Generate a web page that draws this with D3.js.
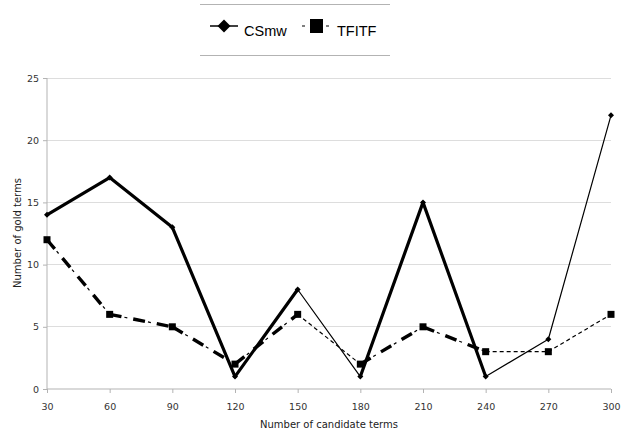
<!DOCTYPE html>
<html><head><meta charset="utf-8">
<script src="https://cdn.jsdelivr.net/npm/d3@7"></script>
<style>body{margin:0;background:#fff}svg{display:block}</style>
</head><body>
<svg id="c" width="626" height="432"></svg>
<script>
const categories = [30, 60, 90, 120, 150, 180, 210, 240, 270, 300];
const csmw = [14, 17, 13, 1, 8, 1, 15, 1, 4, 22];
const tfitf = [12, 6, 5, 2, 6, 2, 5, 3, 3, 6];
const yTicks = [0, 5, 10, 15, 20, 25];
const seriesNames = ["CSmw", "TFITF"];
// segment weight (between consecutive points)
const segWeight = ["thick","thick","thick","thick","thin","thick","thick","thin","thin"];

const svg = d3.select("#c");
const x = d3.scalePoint().domain(categories).range([47, 611]);
const y = d3.scaleLinear().domain([0, 25]).range([389, 78]);
const font = "DejaVu Sans, sans-serif";

// grid
svg.append("g").selectAll("line").data(yTicks.filter(d => d > 0)).join("line")
  .attr("x1", 47).attr("x2", 611).attr("y1", d => y(d)).attr("y2", d => y(d))
  .attr("stroke", "#dddddd").attr("stroke-width", 1).attr("shape-rendering","crispEdges");

// y axis
const ya = svg.append("g").attr("transform", "translate(47,0)")
  .call(d3.axisLeft(y).tickValues(yTicks).tickSize(4).tickPadding(4));
ya.select(".domain").attr("stroke", "#b3b3b3").attr("d", "M0," + y(0) + "V" + y(25));
ya.selectAll(".tick line").attr("stroke", "#b3b3b3");
ya.selectAll("text").attr("font-family", font).attr("font-size", 9.5).attr("fill", "#333");

// x axis
const xa = svg.append("g").attr("transform", "translate(0,389)")
  .call(d3.axisBottom(x).tickSize(4).tickPadding(10));
xa.select(".domain").attr("stroke", "#b3b3b3").attr("d", "M47,0H611");
xa.selectAll(".tick line").attr("stroke", "#b3b3b3");
xa.selectAll("text").attr("font-family", font).attr("font-size", 9.5).attr("fill", "#333");

// axis titles
svg.append("text").attr("x", 329).attr("y", 428).attr("text-anchor", "middle")
  .attr("font-family", font).attr("font-size", 10).attr("fill", "#222").text("Number of candidate terms");
svg.append("text").attr("transform", "translate(21,233) rotate(-90)").attr("text-anchor", "middle")
  .attr("font-family", font).attr("font-size", 10).attr("fill", "#222").text("Number of gold terms");

const segs = (vals) => vals.slice(1).map((v, i) => ({x1: categories[i], y1: vals[i], x2: categories[i+1], y2: v, w: segWeight[i]}));

// TFITF line: thick segments = thick long dashes + thin short dashes between; thin segments = thin dashes
const tSegs = segs(tfitf);
const seg = (g, data) => g.selectAll("line").data(data).join("line")
  .attr("x1", d => x(d.x1)).attr("y1", d => y(d.y1)).attr("x2", d => x(d.x2)).attr("y2", d => y(d.y2))
  .attr("stroke", "#000");
seg(svg.append("g"), tSegs.filter(d => d.w === "thick"))
  .attr("stroke-width", 3.4).attr("stroke-dasharray", "12,12");
seg(svg.append("g"), tSegs.filter(d => d.w === "thick"))
  .attr("stroke-width", 1.2).attr("stroke-dasharray", "0,15,3,6");
seg(svg.append("g"), tSegs.filter(d => d.w === "thin"))
  .attr("stroke-width", 1.2).attr("stroke-dasharray", "4,3");

// CSmw line
seg(svg.append("g"), segs(csmw))
  .attr("stroke-linecap", "round")
  .attr("stroke-width", d => d.w === "thick" ? 3.2 : 1.2);

// markers
svg.append("g").selectAll("rect").data(tfitf).join("rect")
  .attr("x", (d, i) => x(categories[i]) - 3.5).attr("y", d => y(d) - 3.5)
  .attr("width", 7).attr("height", 7).attr("fill", "#000");
const diamond = (cx, cy, r) => `M${cx},${cy-r}L${cx+r},${cy}L${cx},${cy+r}L${cx-r},${cy}Z`;
svg.append("g").selectAll("path").data(csmw).join("path")
  .attr("d", (d, i) => diamond(x(categories[i]), y(d), 3)).attr("fill", "#000");

// legend
const lg = svg.append("g");
lg.append("line").attr("x1", 200).attr("x2", 390).attr("y1", 4.5).attr("y2", 4.5).attr("stroke", "#b3b3b3");
lg.append("line").attr("x1", 200).attr("x2", 390).attr("y1", 55.5).attr("y2", 55.5).attr("stroke", "#b3b3b3");
lg.append("line").attr("x1", 210).attr("x2", 238).attr("y1", 26).attr("y2", 26).attr("stroke", "#000").attr("stroke-width", 1.5);
lg.append("path").attr("d", diamond(224, 26, 6.5)).attr("fill", "#000");
lg.append("text").attr("x", 244).attr("y", 36).attr("font-family", "Liberation Sans, Arial, sans-serif")
  .attr("font-size", 14.5).attr("fill", "#000").text(seriesNames[0]);
lg.append("line").attr("x1", 302).attr("x2", 332).attr("y1", 26).attr("y2", 26).attr("stroke", "#000")
  .attr("stroke-width", 1.2).attr("stroke-dasharray", "3,5");
lg.append("rect").attr("x", 310).attr("y", 19).attr("width", 13).attr("height", 14).attr("fill", "#000");
lg.append("text").attr("x", 337).attr("y", 36).attr("font-family", "Liberation Sans, Arial, sans-serif")
  .attr("font-size", 14.5).attr("fill", "#000").text(seriesNames[1]);
</script>
</body></html>
